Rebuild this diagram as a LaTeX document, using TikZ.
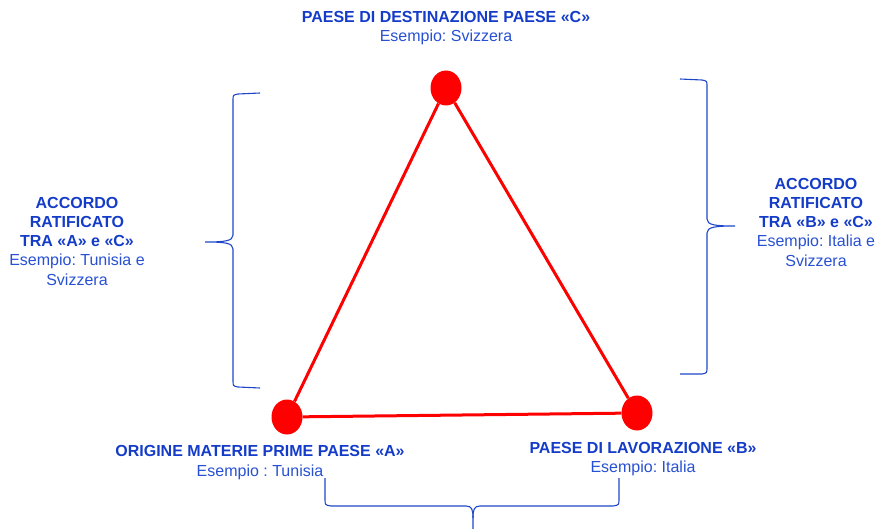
\documentclass[tikz,border=0pt]{standalone}
\usepackage{fontspec}
\setmainfont{Liberation Sans}
\usepackage{xcolor}
\usepackage{tikz}
\usetikzlibrary{shapes.geometric}

\definecolor{blutitolo}{RGB}{20,60,200}
\definecolor{blutesto}{RGB}{40,80,210}
\definecolor{bluparentesi}{RGB}{30,70,200}
\newcommand{\titolo}[1]{{\bfseries\color{blutitolo}#1}}
\frenchspacing

\begin{document}
\begin{tikzpicture}[x=1pt,y=-1pt,
  paese/.style={ellipse,fill=red,minimum width=31pt,minimum height=35pt,inner sep=0pt},
  lato/.style={red,line width=3pt},
  etichetta/.style={align=center,anchor=base,inner sep=0pt,text=blutesto,
    font=\fontsize{16}{19.2}\selectfont},
  graffa/.style={bluparentesi,line width=1.1pt}
]
  \clip (0,0) rectangle (875,529);
  % paesi
  \node[paese] (C) at (446,88)  {};
  \node[paese] (A) at (287,417) {};
  \node[paese] (B) at (637,413) {};
  \draw[lato] (A)--(C) (C)--(B) (B)--(A);
  % etichette (ancorate alla base dell'ultima riga)
  \node[etichetta] (tC) at (446,42) {\titolo{PAESE DI DESTINAZIONE PAESE «C»}\\Esempio: Svizzera};
  \node[etichetta] (tA) at (260,476) {\titolo{ORIGINE MATERIE PRIME PAESE «A»}\\Esempio : Tunisia};
  \node[etichetta] (tB) at (643,472.5) {\titolo{PAESE DI LAVORAZIONE «B»}\\Esempio: Italia};
  \node[etichetta] (tAC) at (77,285) {\titolo{ACCORDO}\\\titolo{RATIFICATO}\\\titolo{TRA «A» e «C»}\\Esempio: Tunisia e\\Svizzera};
  \node[etichetta] (tBC) at (816,266) {\titolo{ACCORDO}\\\titolo{RATIFICATO}\\\titolo{TRA «B» e «C»}\\Esempio: Italia e\\Svizzera};
  % graffe
  \draw[graffa] (260,93) -- (238,94) .. controls (233,95) .. (233,100) -- (233,235)
    .. controls (233,241) and (225,242) .. (205,242)
    .. controls (225,242) and (233,243) .. (233,249) -- (233,380)
    .. controls (233,386) .. (238,387) -- (260,388);
  \draw[graffa] (680,79) -- (702,80) .. controls (707,81) .. (707,86) -- (707,219)
    .. controls (707,225) and (715,226) .. (735,226)
    .. controls (715,226) and (707,227) .. (707,233) -- (707,367)
    .. controls (707,373) .. (702,374) -- (680,374);
  \draw[graffa] (325,478) -- (325,499) .. controls (325,505) .. (331,506) -- (466,506)
    .. controls (472,506) and (473,510) .. (473,518) -- (473,532);
  \draw[graffa] (473,518) .. controls (473,510) and (474,506) .. (480,506) -- (613,506)
    .. controls (619,505) .. (619,499) -- (619,478);
\end{tikzpicture}
\end{document}
